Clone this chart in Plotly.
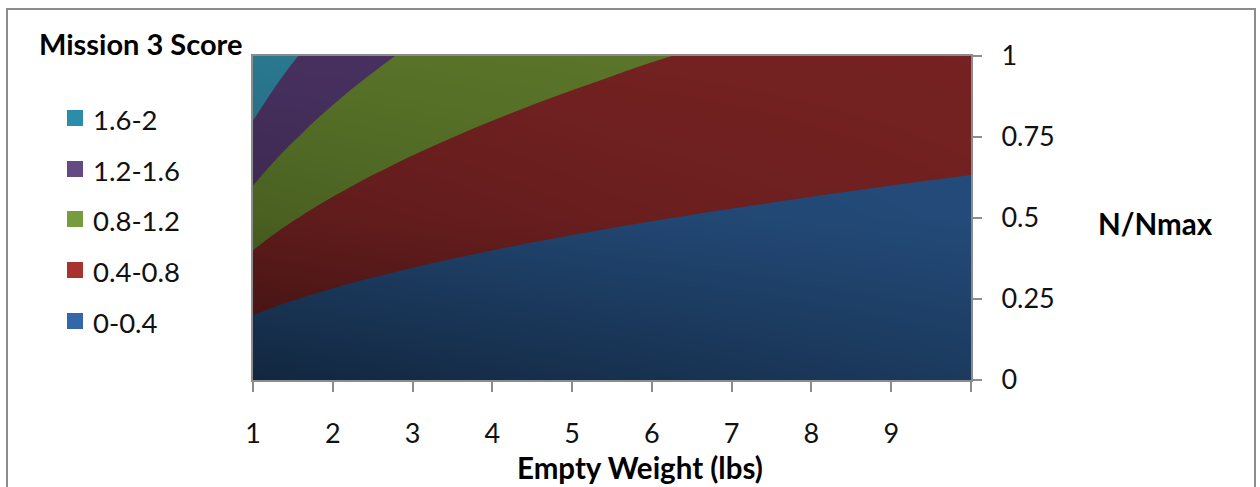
import plotly.graph_objects as go

# Empty weight (lbs) along the horizontal axis
weights = [1, 1.25, 1.5, 1.75, 2, 2.25, 2.5, 2.75, 3, 3.5, 4, 4.5, 5, 5.5, 6, 6.5, 7, 8, 9, 10]
# Fraction of maximum N along the vertical axis
n_ratio = [0, 0.25, 0.5, 0.75, 1]
# Mission 3 score table: one row per n_ratio, one column per weight
score = [
    [0.000, 0.000, 0.000, 0.000, 0.000, 0.000, 0.000, 0.000, 0.000, 0.000,
     0.000, 0.000, 0.000, 0.000, 0.000, 0.000, 0.000, 0.000, 0.000, 0.000],
    [0.500, 0.447, 0.408, 0.378, 0.354, 0.333, 0.316, 0.302, 0.289, 0.267,
     0.250, 0.236, 0.224, 0.213, 0.204, 0.196, 0.189, 0.177, 0.167, 0.158],
    [1.000, 0.894, 0.816, 0.756, 0.707, 0.667, 0.632, 0.603, 0.577, 0.535,
     0.500, 0.471, 0.447, 0.426, 0.408, 0.392, 0.378, 0.354, 0.333, 0.316],
    [1.500, 1.342, 1.225, 1.134, 1.061, 1.000, 0.949, 0.905, 0.866, 0.802,
     0.750, 0.707, 0.671, 0.640, 0.612, 0.588, 0.567, 0.530, 0.500, 0.474],
    [2.000, 1.789, 1.633, 1.512, 1.414, 1.333, 1.265, 1.206, 1.155, 1.069,
     1.000, 0.943, 0.894, 0.853, 0.816, 0.784, 0.756, 0.707, 0.667, 0.632],
]
band_labels = ["0-0.4", "0.4-0.8", "0.8-1.2", "1.2-1.6", "1.6-2"]
x_ticks = [1, 2, 3, 4, 5, 6, 7, 8, 9, 10]
x_ticktext = ["1", "2", "3", "4", "5", "6", "7", "8", "9", ""]
y_ticks = [0, 0.25, 0.5, 0.75, 1]
y_ticktext = ["0", "0.25", "0.5", "0.75", "1"]

# Surface fill colours (lit) and legend swatch colours, low band first
band_fill = ["#254e7e", "#762222", "#5c782a", "#4b3364", "#2c7f97"]
swatch = ["#3466a8", "#a8322e", "#779c40", "#654985", "#2c8dab"]

FONT = "Lato"
GRAY = "#8c8c8c"

# Plot-area pixel box
PL, PR, PT, PB = 253, 971, 56, 380
W, H = 1260, 487


def px_x(px):
    return (px - PL) / (PR - PL)


def px_y(py):
    return (PB - py) / (PB - PT)


# Stepped colorscale so each band gets one flat colour
cs = []
edges = [0, 0.125, 0.375, 0.625, 0.875, 1]
for i, c in enumerate(band_fill):
    cs.append([edges[i], c])
    cs.append([edges[i + 1], c])

fig = go.Figure()
fig.add_trace(go.Contour(
    x=weights, y=n_ratio, z=score,
    contours=dict(start=0.4, end=1.6, size=0.4, coloring="fill", showlines=False),
    line=dict(width=0),
    colorscale=cs, showscale=False, hoverinfo="skip",
))

# Lighting: translucent black wash on an overlaid subplot, darkest toward the lower left
shade = [
    [0.50, 0.38, 0.25],
    [0.20, 0.10, 0.04],
    [0.05, 0.02, 0.00],
]
fig.add_trace(go.Heatmap(
    x=[1, 5.5, 10], y=[0, 0.5, 1], z=shade,
    zmin=0, zmax=1, zsmooth="best",
    colorscale=[[0, "rgba(0,0,0,0)"], [1, "rgba(0,0,0,1)"]],
    showscale=False, hoverinfo="skip",
    xaxis="x2", yaxis="y2",
))

shapes = []
annotations = []

# Outer chart frame (bottom runs past the page edge)
shapes.append(dict(type="rect", xref="paper", yref="paper",
                   x0=px_x(7), x1=px_x(1255), y0=px_y(9), y1=px_y(520),
                   line=dict(color=GRAY, width=2), fillcolor="rgba(0,0,0,0)", layer="below"))

# Legend
annotations.append(dict(text="<b>Mission 3 Score</b>", x=px_x(37), y=px_y(43),
                        xref="paper", yref="paper", xanchor="left", yanchor="middle",
                        showarrow=False, font=dict(family=FONT, size=29, color="#000")))
legend_y = [321, 270, 219, 169, 118]
for lbl, col, cy in zip(band_labels, swatch, legend_y):
    shapes.append(dict(type="rect", xref="paper", yref="paper",
                       x0=px_x(67), x1=px_x(83), y0=px_y(cy + 8), y1=px_y(cy - 8),
                       line=dict(width=0), fillcolor=col))
    annotations.append(dict(text=lbl, x=px_x(91), y=px_y(cy + 1),
                            xref="paper", yref="paper", xanchor="left", yanchor="middle",
                            showarrow=False, font=dict(family=FONT, size=27.5, color="#111")))

# Axis titles
annotations.append(dict(text="<b>N/Nmax</b>", x=px_x(1096), y=px_y(223),
                        xref="paper", yref="paper", xanchor="left", yanchor="middle",
                        showarrow=False, font=dict(family=FONT, size=29.5, color="#000")))
annotations.append(dict(text="<b>Empty Weight (lbs)</b>", x=px_x(640), y=px_y(467),
                        xref="paper", yref="paper", xanchor="center", yanchor="middle",
                        showarrow=False, font=dict(family=FONT, size=29.5, color="#000")))

fig.update_layout(
    width=W, height=H,
    margin=dict(l=PL, r=W - PR, t=PT, b=H - PB, pad=0),
    paper_bgcolor="white", plot_bgcolor="white",
    showlegend=False,
    shapes=shapes, annotations=annotations,
    xaxis=dict(range=[1, 10], tickvals=x_ticks, ticktext=x_ticktext,
               ticks="outside", ticklen=10, tickwidth=2, tickcolor=GRAY,
               showline=True, linecolor=GRAY, linewidth=2, mirror=True,
               showgrid=False, zeroline=False, ticklabelstandoff=19,
               tickfont=dict(family=FONT, size=27, color="#111")),
    yaxis=dict(range=[0, 1], side="right", tickvals=y_ticks, ticktext=y_ticktext,
               ticks="outside", ticklen=9, tickwidth=2, tickcolor=GRAY,
               showline=True, linecolor=GRAY, linewidth=2, mirror=True,
               showgrid=False, zeroline=False, ticklabelstandoff=14,
               tickfont=dict(family=FONT, size=27, color="#111")),
    xaxis2=dict(range=[1, 10], overlaying="x", visible=False),
    yaxis2=dict(range=[0, 1], overlaying="y", visible=False),
)

fig.write_html("out.html")
